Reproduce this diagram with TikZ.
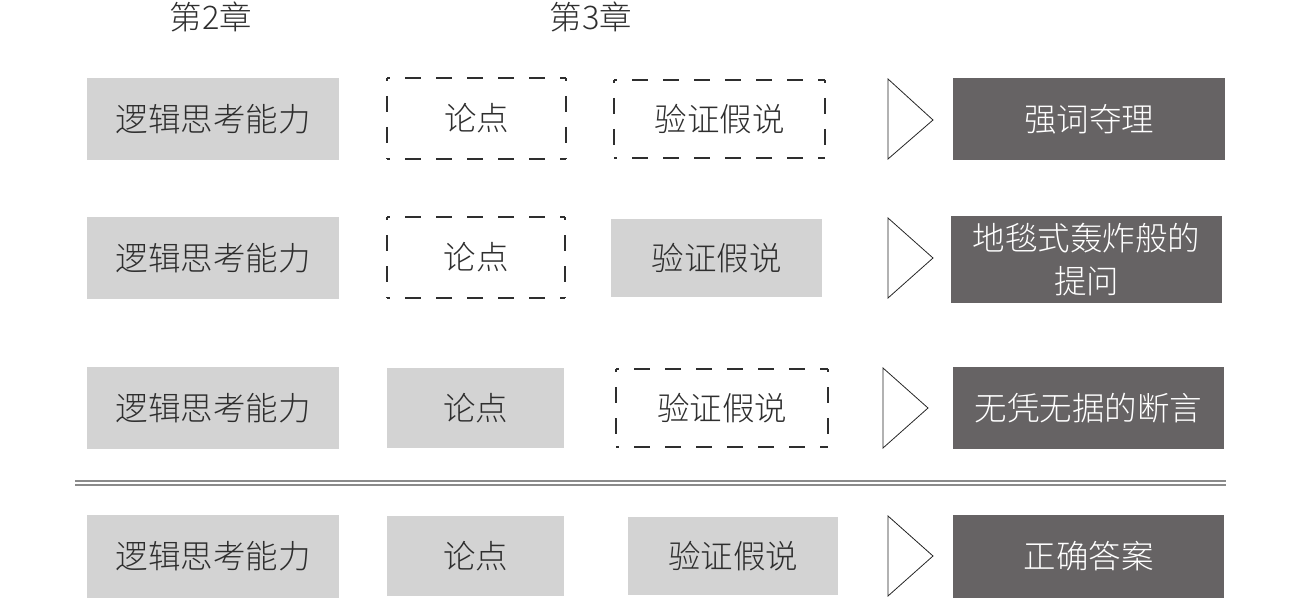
\documentclass[tikz,border=0pt]{standalone}
\usepackage{fontspec}
\setmainfont{Noto Sans CJK SC}[UprightFont={* Light}]
\definecolor{boxgray}{HTML}{D3D3D3}
\definecolor{darkbox}{HTML}{666364}
\definecolor{txt}{HTML}{2E2E2E}
\definecolor{rule}{HTML}{8A8A8A}
\begin{document}
\begin{tikzpicture}[x=1pt,y=-1pt,
  every node/.style={inner sep=0pt,outer sep=0pt,font=\fontsize{32.5}{43}\selectfont,text=txt},
  graybox/.style={fill=boxgray,draw=none},
  dashbox/.style={draw=none},
  dashside/.style={draw=txt,line width=1.8pt,dash pattern=on 16pt off 15pt,dash phase=13pt},
  darkb/.style={fill=darkbox,draw=none,text=white,align=center},
  tri/.style={draw=black!85,line width=0.8pt,fill=white},
  dbl/.style={draw=rule,line width=1.6pt}]
\useasboundingbox (0,0) rectangle (1300,599);
% chapter labels
\node (c2) at (211,17) {第2章};
\node (c3) at (591,17) {第3章};
% row 1
\node[graybox,minimum width=252pt,minimum height=82pt] (a1) at (213,119) {逻辑思考能力};
\node[dashbox,minimum width=179pt,minimum height=81pt] (l1) at (476.5,118.5) {论点};
\node[dashbox,minimum width=211pt,minimum height=78pt] (v1) at (719.5,119) {验证假说};
\draw[tri] (888,79) -- (933,120) -- (888,159) -- cycle;
\node[darkb,minimum width=272pt,minimum height=82pt] (d1) at (1089,119) {强词夺理};
% row 2
\node[graybox,minimum width=252pt,minimum height=82pt] (a2) at (213,258) {逻辑思考能力};
\node[dashbox,minimum width=178pt,minimum height=81pt] (l2) at (476,257.5) {论点};
\node[graybox,minimum width=211pt,minimum height=78pt] (v2) at (716.5,258) {验证假说};
\draw[tri] (888,218) -- (933,258) -- (888,298) -- cycle;
\node[darkb,minimum width=271pt,minimum height=87pt] (d2) at (1086.5,259.5) {地毯式轰炸般的\\提问};
% row 3
\node[graybox,minimum width=252pt,minimum height=82pt] (a3) at (213,408) {逻辑思考能力};
\node[graybox,minimum width=177pt,minimum height=80pt] (l3) at (475.5,408) {论点};
\node[dashbox,minimum width=212pt,minimum height=78pt] (v3) at (722,408) {验证假说};
\draw[tri] (883,368) -- (928,408) -- (883,448) -- cycle;
\node[darkb,minimum width=271pt,minimum height=82pt] (d3) at (1088.5,408) {无凭无据的断言};
% dashed outlines, side by side
\foreach \n in {l1,v1,l2,v3}{
  \draw[dashside] (\n.north west) -- (\n.north east);
  \draw[dashside] (\n.south west) -- (\n.south east);
  \draw[dashside] (\n.north west) -- (\n.south west);
  \draw[dashside] (\n.north east) -- (\n.south east);
}
% double rule
\draw[dbl] (75,481) -- (1226,481);
\draw[dbl] (75,485) -- (1226,485);
% row 4
\node[graybox,minimum width=252pt,minimum height=83pt] (a4) at (213,556.5) {逻辑思考能力};
\node[graybox,minimum width=177pt,minimum height=80pt] (l4) at (475.5,556) {论点};
\node[graybox,minimum width=210pt,minimum height=78pt] (v4) at (733,556) {验证假说};
\draw[tri] (888,516) -- (933,556) -- (888,596) -- cycle;
\node[darkb,minimum width=271pt,minimum height=83pt] (d4) at (1088.5,556.5) {正确答案};
\end{tikzpicture}
\end{document}
